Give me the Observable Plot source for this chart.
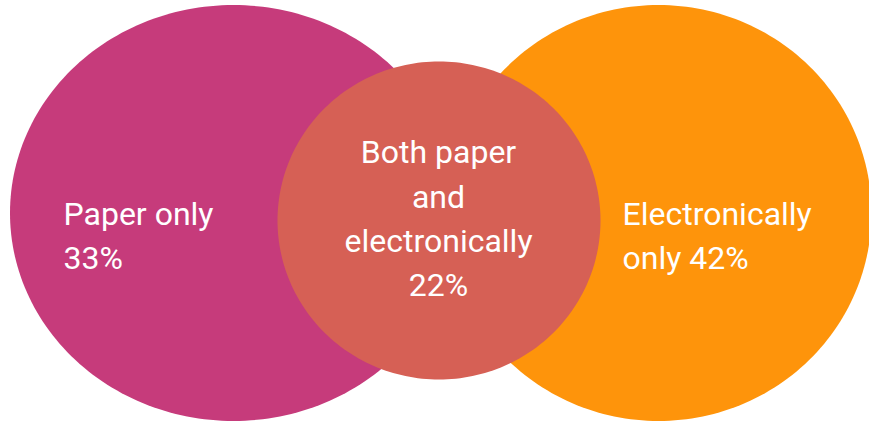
<!DOCTYPE html>
<html>
<head>
<meta charset="utf-8">
<script src="https://cdn.jsdelivr.net/npm/d3@7"></script>
<script src="https://cdn.jsdelivr.net/npm/@observablehq/plot@0.6"></script>
<style>
  html, body { margin: 0; padding: 0; background: #ffffff; }
  #chart svg { display: block; }
</style>
</head>
<body>
<div id="chart"></div>
<script>
// How people receive their statements: shares by channel
const categories = ["Paper only", "Both paper and electronically", "Electronically only"];
const shares = [33, 22, 42];
// Label text broken into lines as displayed inside each region
const labelLines = [
  ["Paper only", "{v}%"],
  ["Both paper", "and", "electronically", "{v}%"],
  ["Electronically", "only {v}%"]
];
const colors = ["#c63b7b", "#d66055", "#fe940b"];

// Venn layout (in chart units): ellipse centres and radii, label anchors
const shapes = [
  {cat: 0, cx: 233, cy: 212.5, rx: 223.5, ry: 208},
  {cat: 2, cx: 658, cy: 212.5, rx: 213, ry: 208},
  {cat: 1, cx: 438.5, cy: 220, rx: 161.5, ry: 159}
];
const anchors = [
  {cat: 0, x: 63, y: 232, align: "start"},
  {cat: 1, x: 438, y: 215, align: "middle"},
  {cat: 2, x: 622, y: 232, align: "start"}
];

// Outline of each ellipse as a closed ring of points
function ring(s, n = 240) {
  return d3.range(n).map(i => {
    const t = (i / n) * 2 * Math.PI;
    return {cat: s.cat, x: s.cx + s.rx * Math.cos(t), y: s.cy + s.ry * Math.sin(t)};
  });
}

const shapeMarks = shapes.map(s =>
  Plot.line(ring(s), {
    x: "x", y: "y",
    curve: "linear-closed",
    fill: colors[s.cat],
    stroke: "none"
  })
);

const labels = anchors.map(a => ({
  ...a,
  text: labelLines[a.cat].map(l => l.replace("{v}", shares[a.cat])).join("\n"),
  name: categories[a.cat]
}));

const textMarks = ["start", "middle"].map(al =>
  Plot.text(labels.filter(d => d.align === al), {
    x: "x", y: "y", text: "text",
    textAnchor: al,
    lineAnchor: "middle",
    lineHeight: 1.39,
    fill: "#ffffff",
    fontSize: 32,
    fontFamily: "Roboto"
  })
);

const chart = Plot.plot({
  width: 869,
  height: 421,
  margin: 0,
  style: {background: "#ffffff", fontFamily: "Roboto"},
  x: {domain: [0, 869], axis: null},
  y: {domain: [421, 0], axis: null},
  marks: [...shapeMarks, ...textMarks]
});

document.getElementById("chart").appendChild(chart);
</script>
</body>
</html>
